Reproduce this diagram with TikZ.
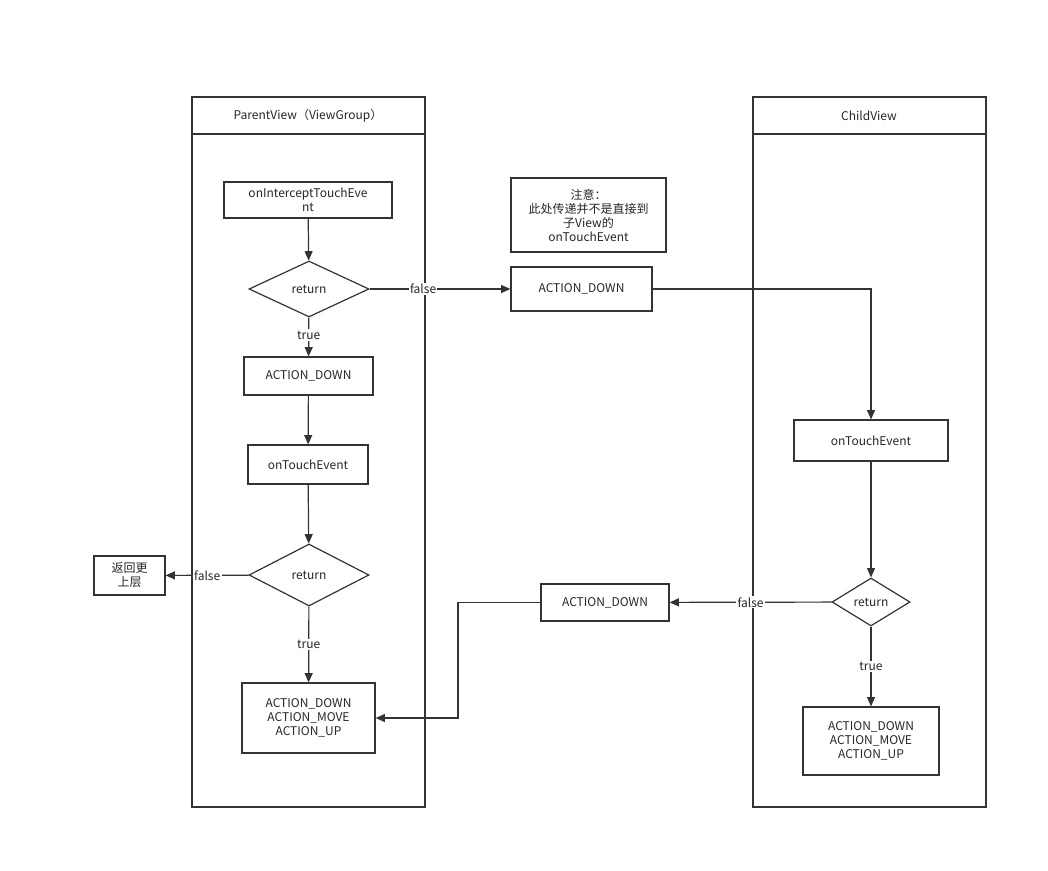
\documentclass[tikz,border=0pt]{standalone}
\usepackage{fontspec}
\setmainfont{Noto Sans CJK SC}
\usetikzlibrary{shapes.geometric,arrows.meta}
\begin{document}
\begin{tikzpicture}[x=0.75pt,y=-0.75pt,
  every node/.style={font=\fontsize{9}{10.5}\selectfont,text=black!85},
  line/.style={draw=black!80,line width=0.9pt},
  arr/.style={line,-{Triangle[length=7pt,width=6pt]}},
  box/.style={line,rectangle,inner sep=0pt,align=center},
  dia/.style={line,diamond,inner sep=0pt,aspect=2},
  lbl/.style={fill=white,inner sep=1pt}]
\useasboundingbox (0,0) rectangle (1048,870);
% lanes
\draw[line] (192,97) rectangle (425,807); \draw[line] (192,134)--(425,134);
\node at (308,116) {ParentView（ViewGroup）};
\draw[line] (753,97) rectangle (986,807); \draw[line] (753,134)--(986,134);
\node at (869,116) {ChildView};
% nodes
\node[box,minimum width=168pt*0.75,minimum height=36pt*0.75] (ie) at (308,200) {onInterceptTouchEve\\nt};
\node[dia,minimum width=90pt,minimum height=42pt] (d1) at (309,289) {return};
\node[box,minimum width=96.75pt,minimum height=28.5pt] (ad1) at (308.5,376) {ACTION\_DOWN};
\node[box,minimum width=90pt,minimum height=29.25pt] (ot1) at (308,464.5) {onTouchEvent};
\node[dia,minimum width=90pt,minimum height=46.5pt] (d2) at (309,575) {return};
\node[box,minimum width=53.25pt,minimum height=29.25pt] (up) at (129.5,575.5) {返回更\\上层};
\node[box,minimum width=99.75pt,minimum height=52.5pt] (f1) at (308.5,718) {ACTION\_DOWN\\ACTION\_MOVE\\ACTION\_UP};
\node[box,minimum width=116.25pt,minimum height=55.5pt] (note) at (588.5,215) {注意：\\此处传递并不是直接到\\子View的\\onTouchEvent};
\node[box,minimum width=105.75pt,minimum height=33pt] (ad2) at (581.5,289) {ACTION\_DOWN};
\node[box,minimum width=115.5pt,minimum height=30.75pt] (ot2) at (871,440.5) {onTouchEvent};
\node[dia,minimum width=58.5pt,minimum height=36pt] (d3) at (871,602) {return};
\node[box,minimum width=96pt,minimum height=27.75pt] (ad3) at (605,602.5) {ACTION\_DOWN};
\node[box,minimum width=102pt,minimum height=51pt] (f2) at (871,741) {ACTION\_DOWN\\ACTION\_MOVE\\ACTION\_UP};
% connectors
\draw[arr] (ie)--(d1);
\draw[arr] (d1)--node[lbl,pos=0.45]{true}(ad1);
\draw[arr] (ad1)--(ot1);
\draw[arr] (ot1)--(d2);
\draw[arr] (d2)--node[lbl,pos=0.5]{true}(f1);
\draw[arr] (d2)--node[lbl,pos=0.5]{false}(up);
\draw[arr] (d1)--node[lbl,pos=0.38]{false}(ad2);
\draw[arr] (ad2.east)-|(ot2.north);
\draw[arr] (ot2)--(d3);
\draw[arr] (d3)--node[lbl,pos=0.5]{false}(ad3);
\draw[arr] (d3)--node[lbl,pos=0.5]{true}(f2);
\coordinate (k1) at (458,602.5); \coordinate (k2) at (458,718);
\draw[arr] (ad3.west)--(k1)--(k2)--(f1.east);
\end{tikzpicture}
\end{document}
